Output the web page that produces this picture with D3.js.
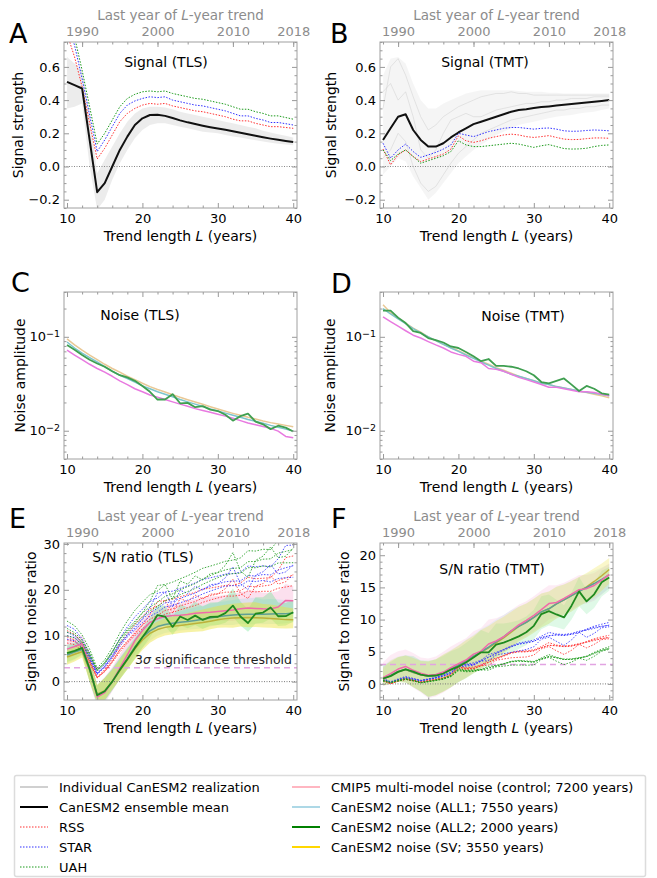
<!DOCTYPE html>
<html>
<head>
<meta charset="utf-8">
<script src="https://cdnjs.cloudflare.com/ajax/libs/d3/7.8.5/d3.min.js"></script>
<style>
body { margin: 0; background: #fff; }
svg { font-family: "DejaVu Sans", sans-serif; }
</style>
</head>
<body>
<div id="chart-area"></div>
<script>

// trend length L (years)
var trendLength = [10,11,12,13,14,15,16,17,18,19,20,21,22,23,24,25,26,27,28,29,30,31,32,33,34,35,36,37,38,39,40];

// A: TLS signal strength
var tlsMean = [0.51,0.49,0.47,0.16,-0.155,-0.10,0.0,0.10,0.18,0.25,0.29,0.31,0.312,0.305,0.292,0.278,0.266,0.256,0.246,0.237,0.229,0.221,0.212,0.203,0.194,0.185,0.176,0.168,0.161,0.154,0.148];
var tlsRss  = [0.80,0.66,0.48,0.26,0.045,0.11,0.19,0.27,0.32,0.35,0.37,0.38,0.375,0.38,0.365,0.355,0.345,0.335,0.33,0.32,0.31,0.30,0.285,0.275,0.275,0.26,0.25,0.24,0.24,0.235,0.23];
var tlsStar = [0.88,0.73,0.53,0.31,0.09,0.16,0.24,0.32,0.37,0.395,0.41,0.42,0.415,0.42,0.40,0.39,0.38,0.37,0.365,0.355,0.345,0.335,0.32,0.305,0.305,0.29,0.28,0.265,0.265,0.258,0.25];
var tlsUah  = [0.95,0.78,0.58,0.36,0.135,0.20,0.28,0.36,0.41,0.435,0.45,0.455,0.45,0.455,0.44,0.43,0.42,0.41,0.405,0.395,0.385,0.375,0.36,0.345,0.345,0.33,0.32,0.305,0.305,0.295,0.285];
var tlsRealLow  = [0.35,0.36,0.38,0.0,-0.26,-0.2,-0.08,0.02,0.1,0.17,0.22,0.25,0.26,0.26,0.25,0.24,0.23,0.22,0.21,0.205,0.2,0.19,0.18,0.175,0.165,0.158,0.15,0.143,0.137,0.132,0.128];
var tlsRealHigh = [0.66,0.62,0.58,0.32,-0.04,0.04,0.12,0.2,0.27,0.32,0.35,0.36,0.36,0.355,0.345,0.33,0.32,0.31,0.3,0.29,0.28,0.27,0.26,0.25,0.24,0.23,0.215,0.205,0.195,0.185,0.175];

// B: TMT signal strength
var tmtMean = [0.16,0.23,0.30,0.315,0.22,0.16,0.12,0.12,0.14,0.175,0.205,0.23,0.255,0.27,0.285,0.30,0.315,0.33,0.34,0.345,0.352,0.358,0.362,0.367,0.372,0.377,0.381,0.385,0.39,0.395,0.40];
var tmtRss  = [0.105,0.01,0.07,0.10,0.06,0.03,0.045,0.06,0.075,0.105,0.185,0.155,0.145,0.155,0.17,0.18,0.19,0.195,0.19,0.18,0.175,0.18,0.186,0.175,0.165,0.162,0.163,0.168,0.172,0.172,0.17];
var tmtStar = [0.14,0.05,0.10,0.135,0.09,0.055,0.07,0.085,0.105,0.13,0.20,0.19,0.18,0.195,0.21,0.22,0.23,0.235,0.235,0.23,0.225,0.23,0.232,0.225,0.215,0.212,0.213,0.217,0.22,0.218,0.215];
var tmtUah  = [0.10,0.035,0.075,0.10,0.06,0.02,0.035,0.05,0.065,0.09,0.155,0.13,0.12,0.12,0.125,0.13,0.135,0.14,0.135,0.125,0.115,0.125,0.132,0.12,0.108,0.105,0.106,0.11,0.12,0.127,0.13];
var tmtRealLow  = [-0.05,0.0,0.05,0.03,-0.06,-0.13,-0.2,-0.16,-0.1,-0.04,0.02,0.06,0.1,0.13,0.16,0.19,0.21,0.23,0.25,0.26,0.27,0.28,0.29,0.3,0.305,0.31,0.32,0.325,0.33,0.34,0.35];
var tmtRealHigh = [0.55,0.65,0.66,0.62,0.5,0.4,0.35,0.35,0.38,0.4,0.42,0.44,0.45,0.46,0.46,0.46,0.46,0.46,0.455,0.45,0.45,0.45,0.445,0.445,0.44,0.44,0.44,0.44,0.44,0.44,0.44];
var tmtReal1 = [0.35,0.6,0.65,0.55,0.42,0.3,0.22,0.25,0.3,0.33,0.36,0.38,0.4,0.42,0.43,0.44,0.44,0.45,0.44,0.44,0.43,0.43,0.43,0.43,0.43,0.43,0.43,0.43,0.43,0.43,0.43];
var tmtReal2 = [0.05,0.1,0.2,0.15,0.0,-0.1,-0.15,-0.12,-0.05,0.02,0.08,0.12,0.16,0.2,0.22,0.24,0.26,0.28,0.29,0.3,0.31,0.32,0.33,0.34,0.34,0.35,0.35,0.36,0.36,0.37,0.37];
var tmtReal3 = [0.45,0.5,0.4,0.45,0.3,0.1,0.05,0.1,0.2,0.28,0.3,0.32,0.3,0.3,0.32,0.34,0.35,0.36,0.37,0.38,0.38,0.39,0.39,0.4,0.4,0.41,0.41,0.41,0.42,0.42,0.42];

// C: TLS noise amplitude
var tlsNoiseCmip5 = [0.072,0.064,0.057,0.051,0.046,0.042,0.038,0.034,0.031,0.028,0.026,0.024,0.0228,0.0215,0.0203,0.0192,0.0182,0.0172,0.0164,0.0157,0.015,0.0143,0.0136,0.0128,0.0121,0.0116,0.0111,0.0106,0.0099,0.0087,0.0084];
var tlsNoiseAll1  = [0.088,0.076,0.067,0.06,0.054,0.048,0.043,0.039,0.036,0.033,0.030,0.028,0.026,0.0245,0.023,0.0215,0.0203,0.0192,0.0181,0.0171,0.0162,0.0154,0.0146,0.0139,0.0132,0.0126,0.012,0.0114,0.0109,0.0104,0.0099];
var tlsNoiseAll2  = [0.082,0.073,0.064,0.057,0.052,0.048,0.043,0.039,0.037,0.034,0.030,0.026,0.0215,0.0215,0.0245,0.0196,0.0198,0.0178,0.0183,0.0168,0.0162,0.0148,0.0128,0.0143,0.0152,0.0125,0.0117,0.0104,0.0113,0.0108,0.0098];
var tlsNoiseSv    = [0.095,0.082,0.072,0.064,0.057,0.051,0.046,0.042,0.038,0.035,0.032,0.0295,0.0275,0.0258,0.0242,0.0227,0.0214,0.0202,0.0191,0.018,0.017,0.0161,0.0153,0.0146,0.0139,0.0133,0.0127,0.0122,0.0118,0.0114,0.011];

// D: TMT noise amplitude
var tmtNoiseCmip5 = [0.163,0.145,0.13,0.116,0.104,0.097,0.089,0.082,0.076,0.069,0.065,0.062,0.055,0.053,0.046,0.045,0.043,0.04,0.037,0.035,0.033,0.031,0.029,0.029,0.028,0.027,0.026,0.026,0.0255,0.0245,0.0235];
var tmtNoiseAll1  = [0.2,0.175,0.155,0.138,0.122,0.11,0.1,0.091,0.083,0.076,0.07,0.064,0.059,0.054,0.05,0.046,0.043,0.04,0.038,0.036,0.034,0.032,0.031,0.0295,0.0285,0.0275,0.0265,0.0257,0.025,0.0243,0.0236];
var tmtNoiseAll2  = [0.19,0.19,0.16,0.14,0.115,0.11,0.097,0.092,0.087,0.079,0.076,0.069,0.062,0.055,0.058,0.049,0.049,0.048,0.046,0.043,0.039,0.033,0.032,0.034,0.036,0.031,0.0265,0.03,0.028,0.025,0.0242];
var tmtNoiseSv    = [0.22,0.18,0.158,0.14,0.124,0.112,0.1,0.091,0.083,0.077,0.071,0.065,0.06,0.055,0.051,0.047,0.044,0.041,0.038,0.036,0.034,0.032,0.031,0.0295,0.0285,0.0275,0.0265,0.0255,0.0245,0.0235,0.0225];

// top axis: last year of the L-year trend (trend starts in 1979)
var firstYear = 1979;
var yearTicks = [1990, 2000, 2010, 2018];
var significance = 3;

var legendLeft = [
	{label: "Individual CanESM2 realization", color: "#c0c0c0", width: 1.5, dash: null},
	{label: "CanESM2 ensemble mean", color: "#000", width: 2, dash: null},
	{label: "RSS", color: "#ff3030", width: 1, dash: "1.5,1.5"},
	{label: "STAR", color: "#3030ff", width: 1, dash: "1.5,1.5"},
	{label: "UAH", color: "#1a9a1a", width: 1, dash: "1.5,1.5"}
];
var legendRight = [
	{label: "CMIP5 multi-model noise (control; 7200 years)", color: "#ffb6c1", width: 2},
	{label: "CanESM2 noise (ALL1; 7550 years)", color: "#add8e6", width: 2},
	{label: "CanESM2 noise (ALL2; 2000 years)", color: "#008000", width: 2},
	{label: "CanESM2 noise (SV; 3550 years)", color: "#ffd700", width: 2}
];

var cols = [{left: 64, right: 297}, {left: 380, right: 613}];
var rows = [{top: 42, bottom: 208}, {top: 292, bottom: 459}, {top: 543, bottom: 700}];

var svg = d3.select("#chart-area")
	.append("svg")
		.attr("width", 657)
		.attr("height", 878);

function setupPanel(letter, col, row, yScale) {
	var c = cols[col], r = rows[row];
	var x = d3.scaleLinear().domain([9.6, 40.5]).range([c.left, c.right]);
	var y = yScale.range([r.bottom, r.top]);
	svg.append("clipPath").attr("id", "clip" + letter)
		.append("rect")
			.attr("x", c.left).attr("y", r.top)
			.attr("width", c.right - c.left).attr("height", r.bottom - r.top);
	var plot = svg.append("g").attr("clip-path", "url(#clip" + letter + ")");
	return {letter: letter, c: c, r: r, x: x, y: y, plot: plot};
}

function pairs(vals) {
	return vals.map(function(v, i){ return [trendLength[i], v]; });
}

// signal to noise ratio, value by value
function ratio(sig, noise) {
	return sig.map(function(s, i){ return s / noise[i]; });
}

function drawLine(p, vals, color, width, dash, opacity) {
	var line = d3.line()
		.x(function(d){ return p.x(d[0]); })
		.y(function(d){ return p.y(d[1]); });
	p.plot.append("path")
		.datum(pairs(vals))
		.attr("d", line)
		.attr("fill", "none")
		.attr("stroke", color)
		.attr("stroke-width", width)
		.attr("stroke-dasharray", dash || null)
		.attr("stroke-linejoin", "round")
		.attr("opacity", opacity == null ? 1 : opacity);
}

function drawBand(p, lo, hi, color, opacity) {
	var area = d3.area()
		.x(function(d){ return p.x(d[0]); })
		.y0(function(d){ return p.y(d[1]); })
		.y1(function(d){ return p.y(d[2]); });
	p.plot.append("path")
		.datum(lo.map(function(v, i){ return [trendLength[i], v, hi[i]]; }))
		.attr("d", area)
		.attr("fill", color)
		.attr("opacity", opacity);
}

function hLine(p, v, color, dash, width) {
	p.plot.append("line")
		.attr("x1", p.c.left).attr("x2", p.c.right)
		.attr("y1", p.y(v)).attr("y2", p.y(v))
		.attr("stroke", color)
		.attr("stroke-width", width)
		.attr("stroke-dasharray", dash);
}

function styleAxis(g, color) {
	g.attr("font-family", "DejaVu Sans").attr("font-size", 13);
	g.select(".domain").remove();
	g.selectAll("line").attr("stroke", "#999");
	g.selectAll("text").attr("fill", color || "#000");
}

function drawAxes(p, o) {
	var g = svg.append("g");
	var c = p.c, r = p.r;
	var xMinor = [12,14,16,18,22,24,26,28,32,34,36,38];

	// left and right y ticks (inward)
	var yl = g.append("g").attr("transform", "translate(" + c.left + ",0)")
		.call(d3.axisLeft(p.y).tickValues(o.yTicks).tickFormat(o.yFormat).tickSize(-5).tickPadding(4));
	styleAxis(yl);
	styleAxis(g.append("g").attr("transform", "translate(" + c.left + ",0)")
		.call(d3.axisLeft(p.y).tickValues(o.yMinor).tickFormat("").tickSize(-2.5)));
	styleAxis(g.append("g").attr("transform", "translate(" + c.right + ",0)")
		.call(d3.axisRight(p.y).tickValues(o.yTicks).tickFormat("").tickSize(-5)));
	styleAxis(g.append("g").attr("transform", "translate(" + c.right + ",0)")
		.call(d3.axisRight(p.y).tickValues(o.yMinor).tickFormat("").tickSize(-2.5)));

	if (o.log) {
		// 10^-k labels with a raised exponent
		yl.selectAll(".tick text").each(function(d){
			var t = d3.select(this);
			var k = Math.round(Math.log10(d));
			t.text("");
			t.append("tspan").text("10");
			t.append("tspan").attr("dy", "-0.5em").attr("font-size", 9.5).text("\u2212" + Math.abs(k));
		});
	}

	// bottom x ticks
	styleAxis(g.append("g").attr("transform", "translate(0," + r.bottom + ")")
		.call(d3.axisBottom(p.x).tickValues([10,20,30,40]).tickFormat(d3.format("d")).tickSize(-5).tickPadding(6)));
	styleAxis(g.append("g").attr("transform", "translate(0," + r.bottom + ")")
		.call(d3.axisBottom(p.x).tickValues(xMinor).tickFormat("").tickSize(-2.5)));

	if (o.years) {
		var xYear = d3.scaleLinear()
			.domain(p.x.domain().map(function(L){ return firstYear - 1 + L; }))
			.range(p.x.range());
		var yearMinor = [];
		for (var yr = 1988; yr <= 2018; yr += 2) yearMinor.push(yr);
		styleAxis(g.append("g").attr("transform", "translate(0," + r.top + ")")
			.call(d3.axisTop(xYear).tickValues(yearTicks).tickFormat(d3.format("d")).tickSize(-5).tickPadding(6)), "#8c8c8c");
		styleAxis(g.append("g").attr("transform", "translate(0," + r.top + ")")
			.call(d3.axisTop(xYear).tickValues(yearMinor).tickFormat("").tickSize(-2.5)));
		var tt = g.append("text")
			.attr("x", (c.left + c.right) / 2)
			.attr("y", r.top - 22)
			.attr("text-anchor", "middle")
			.attr("font-size", 13.5)
			.attr("fill", "#8c8c8c");
		tt.append("tspan").text("Last year of ");
		tt.append("tspan").attr("font-style", "italic").text("L");
		tt.append("tspan").text("-year trend");
	} else {
		styleAxis(g.append("g").attr("transform", "translate(0," + r.top + ")")
			.call(d3.axisTop(p.x).tickValues([10,20,30,40]).tickFormat("").tickSize(-5)));
		styleAxis(g.append("g").attr("transform", "translate(0," + r.top + ")")
			.call(d3.axisTop(p.x).tickValues(xMinor).tickFormat("").tickSize(-2.5)));
	}

	// frame
	g.append("rect")
		.attr("x", c.left).attr("y", r.top)
		.attr("width", c.right - c.left).attr("height", r.bottom - r.top)
		.attr("fill", "none")
		.attr("stroke", "#a0a0a0")
		.attr("stroke-width", 1);

	// x label
	var xl = g.append("text")
		.attr("x", (c.left + c.right) / 2)
		.attr("y", r.bottom + 33)
		.attr("text-anchor", "middle")
		.attr("font-size", 14);
	xl.append("tspan").text("Trend length ");
	xl.append("tspan").attr("font-style", "italic").text("L");
	xl.append("tspan").text(" (years)");

	// y label
	g.append("text")
		.attr("transform", "translate(" + o.yLabelX + "," + ((r.top + r.bottom) / 2) + ") rotate(-90)")
		.attr("text-anchor", "middle")
		.attr("font-size", 14)
		.text(o.yLabel);

	// panel title
	g.append("text")
		.attr("x", o.titleX).attr("y", o.titleY)
		.attr("text-anchor", "middle")
		.attr("font-size", 14)
		.text(o.title);

	// panel letter
	g.append("text")
		.attr("x", o.letterX).attr("y", o.letterY)
		.attr("font-size", 27)
		.text(p.letter);
}

var gridA = [-0.25,-0.15,-0.1,-0.05,0.05,0.1,0.15,0.25,0.3,0.35,0.45,0.5,0.55,0.65,0.7,0.75];
var logMinor = [0.005,0.006,0.007,0.008,0.009,0.02,0.03,0.04,0.05,0.06,0.07,0.08,0.09,0.2,0.3];

// ---------- A: signal TLS ----------
var pA = setupPanel("A", 0, 0, d3.scaleLinear().domain([-0.25, 0.75]));
drawBand(pA, tlsRealLow, tlsRealHigh, "#000", 0.075);
hLine(pA, 0, "#888", "1,1.5", 1);
drawLine(pA, tlsRss, "#ff3030", 1, "1.5,1.5");
drawLine(pA, tlsStar, "#3030ff", 1, "1.5,1.5");
drawLine(pA, tlsUah, "#1a9a1a", 1, "1.5,1.5");
drawLine(pA, tlsMean, "#111", 2);
drawAxes(pA, {yTicks: [-0.2,0,0.2,0.4,0.6], yMinor: gridA, yFormat: d3.format(".1f"), years: true,
	yLabel: "Signal strength", yLabelX: 23, title: "Signal (TLS)", titleX: 166, titleY: 67, letterX: 9, letterY: 43});

// ---------- B: signal TMT ----------
var pB = setupPanel("B", 1, 0, d3.scaleLinear().domain([-0.25, 0.75]));
drawBand(pB, tmtRealLow, tmtRealHigh, "#000", 0.04);
[tmtReal1, tmtReal2, tmtReal3].forEach(function(r){ drawLine(pB, r, "#ccc", 0.8, null, 0.6); });
hLine(pB, 0, "#888", "1,1.5", 1);
drawLine(pB, tmtRss, "#ff3030", 1, "1.5,1.5");
drawLine(pB, tmtStar, "#3030ff", 1, "1.5,1.5");
drawLine(pB, tmtUah, "#1a9a1a", 1, "1.5,1.5");
drawLine(pB, tmtMean, "#111", 2);
drawAxes(pB, {yTicks: [-0.2,0,0.2,0.4,0.6], yMinor: gridA, yFormat: d3.format(".1f"), years: true,
	yLabel: "Signal strength", yLabelX: 336, title: "Signal (TMT)", titleX: 485, titleY: 67, letterX: 330, letterY: 43});

// ---------- C: noise TLS ----------
var pC = setupPanel("C", 0, 1, d3.scaleLog().domain([0.005, 0.3]));
drawLine(pC, tlsNoiseSv, "#e9c895", 1.5);
drawLine(pC, tlsNoiseAll1, "#7cc4cc", 1.5);
drawLine(pC, tlsNoiseCmip5, "#e87ae0", 1.5);
drawLine(pC, tlsNoiseAll2, "#3f9f50", 1.8);
drawAxes(pC, {yTicks: [0.01, 0.1], yMinor: logMinor, yFormat: null, log: true, years: false,
	yLabel: "Noise amplitude", yLabelX: 25, title: "Noise (TLS)", titleX: 140, titleY: 320, letterX: 11, letterY: 292});

// ---------- D: noise TMT ----------
var pD = setupPanel("D", 1, 1, d3.scaleLog().domain([0.005, 0.3]));
drawLine(pD, tmtNoiseSv, "#e9c895", 1.5);
drawLine(pD, tmtNoiseAll1, "#7cc4cc", 1.5);
drawLine(pD, tmtNoiseCmip5, "#e87ae0", 1.5);
drawLine(pD, tmtNoiseAll2, "#3f9f50", 1.8);
drawAxes(pD, {yTicks: [0.01, 0.1], yMinor: logMinor, yFormat: null, log: true, years: false,
	yLabel: "Noise amplitude", yLabelX: 335, title: "Noise (TMT)", titleX: 523, titleY: 321, letterX: 331, letterY: 293});

// ---------- E / F: signal to noise ----------
function drawSN(p, mean, obs, low, high, noises, fade) {
	// realization spread for each noise estimate
	drawBand(p, ratio(low, noises.cmip5), ratio(high, noises.cmip5), "#f7a6cf", 0.35 * fade);
	drawBand(p, ratio(low, noises.all1), ratio(high, noises.all1), "#9adbe8", 0.3 * fade);
	drawBand(p, ratio(low, noises.all2), ratio(high, noises.all2), "#4fe07a", 0.3 * fade);
	drawBand(p, ratio(low, noises.sv), ratio(high, noises.sv), "#ece23a", 0.45 * fade);
	hLine(p, 0, "#777", "1,1.5", 1);
	hLine(p, significance, "#e2a4e2", "6,4", 1.5);
	var obsColors = ["#ff3030", "#3030ff", "#1a9a1a"];
	obs.forEach(function(o, k){
		[noises.cmip5, noises.all1, noises.all2, noises.sv].forEach(function(n){
			drawLine(p, ratio(o, n), obsColors[k], 1, "1.5,1.5", 0.85);
		});
	});
	drawLine(p, ratio(mean, noises.sv), "#bdb13a", 1.5);
	drawLine(p, ratio(mean, noises.all1), "#5f9f95", 1.5);
	drawLine(p, ratio(mean, noises.cmip5), "#f06aaa", 1.5);
	drawLine(p, ratio(mean, noises.all2), "#1f8a1f", 1.8);
}

var pE = setupPanel("E", 0, 2, d3.scaleLinear().domain([-4, 30.2]));
drawSN(pE, tlsMean, [tlsRss, tlsStar, tlsUah], tlsRealLow, tlsRealHigh,
	{cmip5: tlsNoiseCmip5, all1: tlsNoiseAll1, all2: tlsNoiseAll2, sv: tlsNoiseSv}, 1);
var thr = svg.append("text")
	.attr("x", 292).attr("y", pE.y(significance) - 4)
	.attr("text-anchor", "end")
	.attr("font-size", 12.5)
	.attr("fill", "#222");
thr.append("tspan").text("3");
thr.append("tspan").attr("font-style", "italic").text("\u03c3");
thr.append("tspan").text(" significance threshold");
drawAxes(pE, {yTicks: [0,10,20,30], yMinor: [-2,2,4,6,8,12,14,16,18,22,24,26,28], yFormat: d3.format("d"), years: true,
	yLabel: "Signal to noise ratio", yLabelX: 36, title: "S/N ratio (TLS)", titleX: 143, titleY: 562, letterX: 9, letterY: 528});

var pF = setupPanel("F", 1, 2, d3.scaleLinear().domain([-2.5, 21.9]));
drawSN(pF, tmtMean, [tmtRss, tmtStar, tmtUah], tmtRealLow, tmtRealHigh,
	{cmip5: tmtNoiseCmip5, all1: tmtNoiseAll1, all2: tmtNoiseAll2, sv: tmtNoiseSv}, 0.6);
drawAxes(pF, {yTicks: [0,5,10,15,20], yMinor: [-2,-1,1,2,3,4,6,7,8,9,11,12,13,14,16,17,18,19,21], yFormat: d3.format("d"), years: true,
	yLabel: "Signal to noise ratio", yLabelX: 349, title: "S/N ratio (TMT)", titleX: 492, titleY: 574, letterX: 331, letterY: 528});

// ---------- legend ----------
var legend = svg.append("g").attr("font-size", 13);
legend.append("rect")
	.attr("x", 14.5).attr("y", 775.5)
	.attr("width", 631).attr("height", 101)
	.attr("rx", 2)
	.attr("fill", "#fff")
	.attr("stroke", "#dcdcdc")
	.attr("stroke-width", 1.5);

function legendColumn(items, hx, tx) {
	items.forEach(function(d, i){
		var yy = 787 + i * 20;
		legend.append("line")
			.attr("x1", hx).attr("x2", hx + 28)
			.attr("y1", yy).attr("y2", yy)
			.attr("stroke", d.color)
			.attr("stroke-width", d.width)
			.attr("stroke-dasharray", d.dash || null);
		legend.append("text")
			.attr("x", tx).attr("y", yy + 4.5)
			.text(d.label);
	});
}
legendColumn(legendLeft, 20, 59);
legendColumn(legendRight, 292, 331);

</script>
</body>
</html>
